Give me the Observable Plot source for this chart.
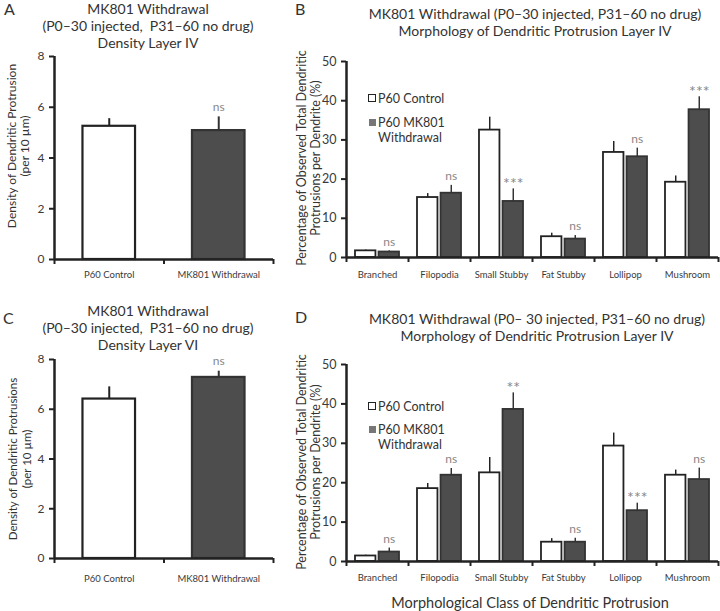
<!DOCTYPE html>
<html><head><meta charset="utf-8">
<script src="https://cdn.jsdelivr.net/npm/d3@7"></script>
<script src="https://cdn.jsdelivr.net/npm/@observablehq/plot@0.6"></script>
<style>
body{margin:0;background:#fff;}
#root{position:relative;width:720px;height:611px;font-family:Lato, sans-serif;color:#333;overflow:hidden;background:#fff}
.t{position:absolute;white-space:nowrap;}
.title{font-size:14px;text-align:center;line-height:17px;color:#333}
.letter{font-size:16px;color:#333;line-height:17px}
.ylab{font-size:12px;text-align:center;line-height:13px;transform:rotate(-90deg);transform-origin:center center;color:#333}
.leg{font-size:12.5px;color:#333;line-height:13px}
.sq{position:absolute;width:6px;height:6px}
.panel{position:absolute}
</style></head>
<body><div id="root"></div>
<script>
// ---------- data ----------
const densityGroups = ["P60 Control", "MK801 Withdrawal"];
const densityA = [5.25, 5.08];
const densityASem = [0.30, 0.54];
const densityASig = ["", "ns"];
const densityC = [6.41, 7.28];
const densityCSem = [0.49, 0.25];
const densityCSig = ["", "ns"];

const morphClasses = ["Branched", "Filopodia", "Small Stubby", "Fat Stubby", "Lollipop", "Mushroom"];
const morphSeries = ["P60 Control", "P60 MK801", "Withdrawal"];
const morphBControl = [1.7, 15.3, 32.5, 5.3, 26.8, 19.2];
const morphBControlSem = [0.2, 1.0, 3.3, 0.9, 2.8, 1.6];
const morphBMK801 = [1.4, 16.4, 14.3, 4.7, 25.7, 37.7];
const morphBMK801Sem = [0.3, 2.0, 3.2, 0.9, 2.2, 3.3];
const morphBSig = ["ns", "ns", "***", "ns", "ns", "***"];
const morphDControl = [1.4, 18.5, 22.5, 4.9, 29.3, 21.9];
const morphDControlSem = [0.2, 1.3, 3.9, 0.9, 3.3, 1.3];
const morphDMK801 = [2.4, 21.9, 38.6, 4.9, 12.9, 20.8];
const morphDMK801Sem = [1.0, 1.7, 4.2, 1.0, 1.9, 2.9];
const morphDSig = ["ns", "ns", "**", "ns", "***", "ns"];

const densityTicks = [0, 2, 4, 6, 8];
const morphTicks = [0, 10, 20, 30, 40, 50];

// ---------- styles ----------
const AX = "#222", DARK = "#4d4d4d", DARKSTROKE = "#333", SIG = "#888", TICKTXT = "#3a3a3a";
const root = document.getElementById("root");
const isStar = d => d.sig.startsWith("*");

function addText(cls, html, css) {
  const d = document.createElement("div");
  d.className = "t " + cls;
  d.innerHTML = html;
  Object.assign(d.style, css);
  root.appendChild(d);
  return d;
}

function place(svg, left, top) {
  const w = document.createElement("div");
  w.className = "panel";
  w.style.left = left + "px";
  w.style.top = top + "px";
  w.appendChild(svg);
  root.appendChild(w);
}

function sigMarks(data, xAcc, dyNs) {
  return [
    Plot.text(data.filter(d => !isStar(d)), {x: xAcc, y: d => d.v + d.e, text: "sig", dy: dyNs, fill: SIG, fontSize: 12}),
    Plot.text(data.filter(isStar), {x: xAcc, y: d => d.v + d.e, text: "sig", dy: dyNs + 4, fill: SIG, fontSize: 16})
  ];
}

function densityPanel(values, sems, sigs, m) {
  const data = densityGroups.map((g, i) => ({i, g, v: values[i], e: sems[i], sig: sigs[i]}));
  const n = densityGroups.length;
  const bounds = d3.range(n + 1).map(k => k - 0.5);
  return Plot.plot({
    width: 280, height: 240,
    marginLeft: m.left, marginRight: m.right, marginTop: m.top, marginBottom: m.bottom,
    x: {domain: [-0.5, n - 0.5]},
    y: {domain: [0, 8]},
    style: {fontFamily: "Lato, sans-serif", background: "transparent", overflow: "visible"},
    marks: [
      Plot.axisY({ticks: densityTicks, tickSize: 5, tickPadding: 5, strokeWidth: 2, stroke: AX, fill: TICKTXT, fontSize: 12, label: null}),
      Plot.axisX({ticks: bounds, tickSize: 5, tickFormat: () => "", strokeWidth: 2, stroke: AX, label: null}),
      Plot.axisX({ticks: d3.range(n), tickSize: 0, tickPadding: m.xpad, tickFormat: i => densityGroups[i], fill: TICKTXT, fontSize: 9.5, label: null}),
      Plot.rect(data, {x1: d => d.i - 0.24, x2: d => d.i + 0.24, y1: 0, y2: "v",
        fill: d => d.i === 0 ? "#fff" : DARK, stroke: d => d.i === 0 ? AX : DARKSTROKE, strokeWidth: 2.2}),
      Plot.ruleX(data, {x: "i", y1: "v", y2: d => d.v + d.e, stroke: d => d.i === 0 ? AX : DARKSTROKE, strokeWidth: 2}),
      ...sigMarks(data, "i", -10),
      Plot.ruleY([0], {stroke: AX, strokeWidth: 2.5}),
      Plot.ruleX([-0.5], {stroke: AX, strokeWidth: 2.5})
    ]
  });
}

function morphPanel(ctrl, ctrlSem, mk, mkSem, sigs, m) {
  const data = [];
  morphClasses.forEach((c, i) => {
    data.push({i, s: 0, v: ctrl[i], e: ctrlSem[i], sig: ""});
    data.push({i, s: 1, v: mk[i], e: mkSem[i], sig: sigs[i]});
  });
  const n = morphClasses.length;
  const bounds = d3.range(n + 1).map(k => k - 0.5);
  const x1 = d => d.i + (d.s === 0 ? -0.355 : 0.025);
  const x2 = d => d.i + (d.s === 0 ? -0.025 : 0.355);
  const xc = d => d.i + (d.s === 0 ? -0.19 : 0.19);
  return Plot.plot({
    width: 420, height: 240,
    marginLeft: m.left, marginRight: m.right, marginTop: m.top, marginBottom: m.bottom,
    x: {domain: [-0.5, n - 0.5]},
    y: {domain: [0, 50]},
    style: {fontFamily: "Lato, sans-serif", background: "transparent", overflow: "visible"},
    marks: [
      Plot.axisY({ticks: morphTicks, tickSize: 5, tickPadding: 5, strokeWidth: 2, stroke: AX, fill: TICKTXT, fontSize: 12.5, label: null}),
      Plot.axisX({ticks: bounds, tickSize: 5, tickFormat: () => "", strokeWidth: 2, stroke: AX, label: null}),
      Plot.axisX({ticks: d3.range(n), tickSize: 0, tickPadding: m.xpad, tickFormat: i => morphClasses[i], fill: TICKTXT, fontSize: 9.5, label: null}),
      Plot.rect(data, {x1, x2, y1: 0, y2: "v",
        fill: d => d.s === 0 ? "#fff" : DARK, stroke: d => d.s === 0 ? AX : DARKSTROKE, strokeWidth: 1.8}),
      Plot.ruleX(data, {x: xc, y1: "v", y2: d => d.v + d.e, stroke: d => d.s === 0 ? AX : DARKSTROKE, strokeWidth: 1.5}),
      ...sigMarks(data.filter(d => d.s === 1), xc, -9),
      Plot.ruleY([0], {stroke: AX, strokeWidth: 2.5}),
      Plot.ruleX([-0.5], {stroke: AX, strokeWidth: 2.5})
    ]
  });
}

// ---------- panels ----------
place(densityPanel(densityA, densityASem, densityASig, {left: 54, right: 7, top: 6, bottom: 31, xpad: 12}), 0, 50);
place(morphPanel(morphBControl, morphBControlSem, morphBMK801, morphBMK801Sem, morphBSig, {left: 46, right: 2, top: 11, bottom: 33, xpad: 14}), 300, 50);
place(densityPanel(densityC, densityCSem, densityCSig, {left: 54, right: 7, top: 9, bottom: 32, xpad: 17}), 0, 350);
place(morphPanel(morphDControl, morphDControlSem, morphDMK801, morphDMK801Sem, morphDSig, {left: 46, right: 2, top: 14, bottom: 29, xpad: 13}), 300, 350);

// ---------- text ----------
addText("letter", "A", {left: "4px", top: "0px"});
addText("letter", "B", {left: "295px", top: "0px"});
addText("letter", "C", {left: "3px", top: "309px"});
addText("letter", "D", {left: "295px", top: "308px"});

function title(lines, cx, top) {
  addText("title", lines.join("<br>"), {top: top + "px", left: (cx - 200) + "px", width: "400px"});
}
title(["MK801 Withdrawal", "(P0\u201330 injected,&nbsp; P31\u201360 no drug)", "Density Layer IV"], 148, 0);
title(["MK801 Withdrawal (P0\u201330 injected, P31\u201360 no drug)", "Morphology of Dendritic Protrusion Layer IV"], 535, 5);
title(["MK801 Withdrawal", "(P0\u201330 injected,&nbsp; P31\u201360 no drug)", "Density Layer VI"], 148, 301.5);
title(["MK801 Withdrawal (P0\u2013 30 injected, P31\u201360 no drug)", "Morphology of Dendritic Protrusion Layer IV"], 537, 310);

function ylab(lines, cx, cy, lh, fs) {
  const W = 260, H = lh * lines.length;
  addText("ylab", lines.join("<br>"), {left: (cx - W / 2) + "px", top: (cy - H / 2) + "px", width: W + "px", height: H + "px", lineHeight: lh + "px", fontSize: fs + "px"});
}
ylab(["Density of Dendritic Protrusion", "(per 10 \u00b5m)"], 17.5, 146, 13, 12);
ylab(["Density of Dendritic Protrusions", "(per 10 \u00b5m)"], 20, 459, 14, 11.5);
ylab(["Percentage of Observed Total Dendritic", "Protrusions per Dendrite (%)"], 309, 158, 14, 12.5);
ylab(["Percentage of Observed Total Dendritic", "Protrusions per Dendrite (%)"], 309, 462, 14, 12.5);

function legend(x, y1, y2, y3) {
  const s1 = document.createElement("div"); s1.className = "sq";
  Object.assign(s1.style, {left: x + "px", top: (y1 - 4) + "px", width: "6px", height: "6px", border: "1.3px solid #222", background: "#fff"});
  root.appendChild(s1);
  addText("leg", morphSeries[0], {left: (x + 10) + "px", top: (y1 - 6.5) + "px"});
  const s2 = document.createElement("div"); s2.className = "sq";
  Object.assign(s2.style, {left: (x + 1) + "px", top: (y2 - 3.5) + "px", width: "7px", height: "7px", background: "#777"});
  root.appendChild(s2);
  addText("leg", morphSeries[1], {left: (x + 10) + "px", top: (y2 - 6.5) + "px"});
  addText("leg", morphSeries[2], {left: (x + 10) + "px", top: (y3 - 6.5) + "px"});
}
legend(368, 98, 122, 137);
legend(368, 406, 429, 444);

addText("", "Morphological Class of Dendritic Protrusion", {left: "330px", width: "400px", textAlign: "center", top: "594px", fontSize: "14.5px", color: "#333"});
</script>
</body></html>
